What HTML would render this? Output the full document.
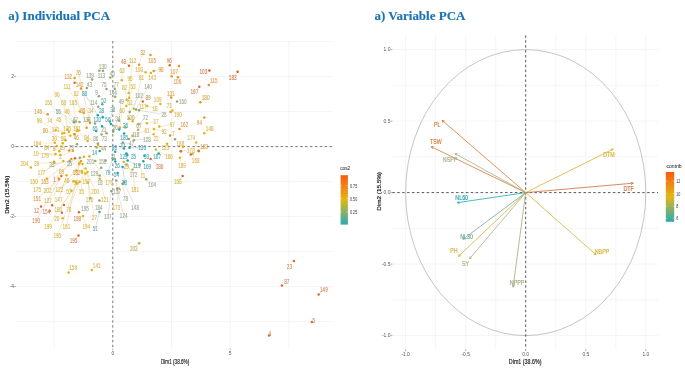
<!DOCTYPE html>
<html><head><meta charset="utf-8"><title>PCA</title>
<style>html,body{margin:0;padding:0;background:#fff;width:685px;height:368px;overflow:hidden;}svg{display:block;will-change:transform;}</style>
</head><body>
<svg width="685" height="368" viewBox="0 0 685 368">
<rect width="685" height="368" fill="#ffffff"/>
<defs><filter id="bl" x="0" y="0" width="100%" height="100%"><feGaussianBlur stdDeviation="0.35"/></filter></defs><g filter="url(#bl)">
<g stroke="#ebebeb" stroke-width="0.5"><line x1="54.1" y1="41" x2="54.1" y2="348.5"/><line x1="112.8" y1="41" x2="112.8" y2="348.5"/><line x1="171.5" y1="41" x2="171.5" y2="348.5"/><line x1="230.2" y1="41" x2="230.2" y2="348.5"/><line x1="288.9" y1="41" x2="288.9" y2="348.5"/><line x1="16" y1="41.6" x2="333" y2="41.6"/><line x1="16" y1="76.6" x2="333" y2="76.6"/><line x1="16" y1="111.6" x2="333" y2="111.6"/><line x1="16" y1="146.6" x2="333" y2="146.6"/><line x1="16" y1="181.6" x2="333" y2="181.6"/><line x1="16" y1="216.6" x2="333" y2="216.6"/><line x1="16" y1="251.6" x2="333" y2="251.6"/><line x1="16" y1="286.6" x2="333" y2="286.6"/><line x1="16" y1="321.6" x2="333" y2="321.6"/></g>
<g stroke="#333" stroke-width="0.65" stroke-dasharray="2.4,2.5"><line x1="112.8" y1="41" x2="112.8" y2="348.5"/><line x1="16" y1="146.6" x2="333" y2="146.6"/></g>
<g stroke-width="0.35" opacity="0.85"><line x1="139.1" y1="64.8" x2="142.7" y2="52.2" stroke="#dca050"/><line x1="129.0" y1="65.7" x2="123.6" y2="61.2" stroke="#d88c5c"/><line x1="128.6" y1="92.9" x2="132.6" y2="60.8" stroke="#d8b850"/><line x1="153.7" y1="71.0" x2="161.0" y2="69.3" stroke="#dca050"/><line x1="145.6" y1="72.2" x2="139.1" y2="69.3" stroke="#d8b850"/><line x1="121.8" y1="80.2" x2="122.0" y2="70.1" stroke="#d8b850"/><line x1="129.2" y1="97.8" x2="130.1" y2="78.3" stroke="#d8b850"/><line x1="133.8" y1="108.8" x2="141.5" y2="77.8" stroke="#d8b850"/><line x1="126.7" y1="99.8" x2="124.6" y2="87.3" stroke="#d8b850"/><line x1="126.3" y1="106.0" x2="133.0" y2="86.3" stroke="#d8b850"/><line x1="136.1" y1="109.5" x2="148.0" y2="86.4" stroke="#a0aa90"/><line x1="129.7" y1="111.9" x2="139.1" y2="95.5" stroke="#a0aa90"/><line x1="237.6" y1="71.8" x2="232.7" y2="77.1" stroke="#d27c58"/><line x1="208.8" y1="85.1" x2="214.0" y2="80.4" stroke="#dca050"/><line x1="199.3" y1="86.7" x2="194.4" y2="91.8" stroke="#d88c5c"/><line x1="90.0" y1="123.1" x2="78.3" y2="72.0" stroke="#dca050"/><line x1="83.7" y1="113.0" x2="67.0" y2="86.3" stroke="#d8b850"/><line x1="76.1" y1="121.6" x2="57.1" y2="94.2" stroke="#d8b850"/><line x1="79.8" y1="111.4" x2="76.2" y2="93.4" stroke="#d8b850"/><line x1="97.8" y1="115.3" x2="84.5" y2="93.6" stroke="#4aa8b4"/><line x1="77.6" y1="130.4" x2="48.5" y2="102.8" stroke="#d8b850"/><line x1="67.6" y1="129.3" x2="63.5" y2="102.7" stroke="#d8b850"/><line x1="76.9" y1="130.9" x2="73.1" y2="102.3" stroke="#d8b850"/><line x1="47.7" y1="114.2" x2="38.2" y2="111.3" stroke="#dca050"/><line x1="73.9" y1="122.2" x2="58.3" y2="111.3" stroke="#78aca8"/><line x1="78.4" y1="130.5" x2="67.0" y2="111.0" stroke="#d8b850"/><line x1="86.6" y1="127.8" x2="82.7" y2="110.3" stroke="#dca050"/><line x1="88.3" y1="120.1" x2="90.9" y2="110.3" stroke="#d8b850"/><line x1="55.7" y1="130.3" x2="39.2" y2="120.7" stroke="#d8b850"/><line x1="64.4" y1="133.1" x2="49.6" y2="120.7" stroke="#d8b850"/><line x1="68.8" y1="132.1" x2="58.8" y2="119.9" stroke="#d8b850"/><line x1="95.0" y1="123.6" x2="86.8" y2="119.4" stroke="#a0aa90"/><line x1="102.1" y1="126.3" x2="97.3" y2="119.8" stroke="#4aa8b4"/><line x1="65.4" y1="140.2" x2="45.2" y2="130.0" stroke="#dca050"/><line x1="70.4" y1="135.7" x2="55.5" y2="129.2" stroke="#d8b850"/><line x1="74.4" y1="134.4" x2="67.2" y2="128.9" stroke="#d8b850"/><line x1="87.6" y1="140.9" x2="77.0" y2="128.9" stroke="#d8b850"/><line x1="62.8" y1="143.2" x2="54.2" y2="138.2" stroke="#d8b850"/><line x1="98.1" y1="145.1" x2="86.8" y2="137.0" stroke="#d8b850"/><line x1="54.8" y1="142.8" x2="37.1" y2="143.0" stroke="#d8b850"/><line x1="56.9" y1="146.1" x2="46.9" y2="147.1" stroke="#d8b850"/><line x1="69.2" y1="150.6" x2="54.2" y2="148.7" stroke="#dca050"/><line x1="55.5" y1="154.0" x2="35.9" y2="153.2" stroke="#d8b850"/><line x1="60.4" y1="155.1" x2="45.0" y2="155.0" stroke="#d8b850"/><line x1="119.0" y1="120.8" x2="121.3" y2="101.0" stroke="#a0aa90"/><line x1="128.9" y1="118.4" x2="130.0" y2="102.0" stroke="#d8b850"/><line x1="132.7" y1="121.2" x2="142.9" y2="106.4" stroke="#d8b850"/><line x1="147.2" y1="106.0" x2="155.1" y2="108.4" stroke="#d8b850"/><line x1="102.8" y1="117.2" x2="101.5" y2="110.3" stroke="#4aa8b4"/><line x1="109.9" y1="121.6" x2="112.8" y2="109.6" stroke="#78aca8"/><line x1="119.8" y1="127.5" x2="122.0" y2="110.3" stroke="#d8b850"/><line x1="139.0" y1="110.3" x2="164.1" y2="114.5" stroke="#a0aa90"/><line x1="113.3" y1="131.1" x2="117.7" y2="118.6" stroke="#a0aa90"/><line x1="125.2" y1="127.4" x2="130.7" y2="117.8" stroke="#bcb26a"/><line x1="138.5" y1="124.2" x2="145.4" y2="117.8" stroke="#a0aa90"/><line x1="146.8" y1="123.2" x2="156.0" y2="121.9" stroke="#d8b850"/><line x1="119.2" y1="129.6" x2="125.5" y2="125.1" stroke="#4aa8b4"/><line x1="132.3" y1="135.7" x2="147.0" y2="130.0" stroke="#d8b850"/><line x1="153.9" y1="128.9" x2="164.1" y2="131.4" stroke="#d8b850"/><line x1="128.8" y1="139.0" x2="135.6" y2="134.9" stroke="#a0aa90"/><line x1="133.8" y1="140.2" x2="147.0" y2="139.0" stroke="#a0aa90"/><line x1="122.8" y1="142.6" x2="131.5" y2="143.9" stroke="#a0aa90"/><line x1="96.6" y1="147.4" x2="103.8" y2="148.7" stroke="#bcb26a"/><line x1="129.5" y1="147.7" x2="142.1" y2="147.9" stroke="#4aa8b4"/><line x1="159.3" y1="126.6" x2="172.2" y2="124.3" stroke="#d8b850"/><line x1="204.3" y1="133.3" x2="209.7" y2="128.4" stroke="#d8b850"/><line x1="198.8" y1="151.2" x2="204.0" y2="146.3" stroke="#dca050"/><line x1="181.2" y1="151.2" x2="190.9" y2="150.2" stroke="#d8b850"/><line x1="30.9" y1="167.6" x2="24.4" y2="163.4" stroke="#d8b850"/><line x1="54.0" y1="161.8" x2="36.6" y2="163.8" stroke="#d8b850"/><line x1="72.9" y1="150.9" x2="60.3" y2="156.2" stroke="#d8b850"/><line x1="69.6" y1="161.1" x2="51.8" y2="164.7" stroke="#a0aa90"/><line x1="79.8" y1="157.8" x2="69.2" y2="163.4" stroke="#a0aa90"/><line x1="63.4" y1="160.9" x2="41.5" y2="172.5" stroke="#d8b850"/><line x1="84.0" y1="156.7" x2="61.6" y2="171.2" stroke="#d8b850"/><line x1="54.5" y1="162.8" x2="33.9" y2="181.3" stroke="#d8b850"/><line x1="71.3" y1="158.9" x2="44.8" y2="181.3" stroke="#dca050"/><line x1="75.0" y1="158.3" x2="54.6" y2="179.0" stroke="#d88c5c"/><line x1="79.2" y1="164.1" x2="66.8" y2="180.6" stroke="#d8b850"/><line x1="46.9" y1="178.5" x2="37.1" y2="189.9" stroke="#d8b850"/><line x1="59.1" y1="179.6" x2="47.6" y2="190.4" stroke="#d8b850"/><line x1="81.7" y1="171.1" x2="59.4" y2="189.1" stroke="#d8b850"/><line x1="73.4" y1="181.2" x2="68.7" y2="191.0" stroke="#d8b850"/><line x1="58.7" y1="178.6" x2="37.1" y2="198.9" stroke="#dca050"/><line x1="76.4" y1="170.4" x2="48.0" y2="200.2" stroke="#d8b850"/><line x1="66.6" y1="175.3" x2="58.6" y2="199.7" stroke="#d8b850"/><line x1="127.6" y1="160.5" x2="136.8" y2="165.5" stroke="#4aa8b4"/><line x1="80.9" y1="161.3" x2="76.5" y2="172.8" stroke="#dca050"/><line x1="101.2" y1="167.7" x2="94.4" y2="173.6" stroke="#a0aa90"/><line x1="112.6" y1="158.4" x2="107.8" y2="172.8" stroke="#4aa8b4"/><line x1="126.6" y1="164.4" x2="133.5" y2="174.4" stroke="#a0aa90"/><line x1="139.6" y1="164.6" x2="143.0" y2="175.2" stroke="#d8b850"/><line x1="79.4" y1="163.0" x2="76.2" y2="182.6" stroke="#d8b850"/><line x1="82.5" y1="163.9" x2="86.3" y2="181.8" stroke="#d8b850"/><line x1="99.6" y1="175.4" x2="100.1" y2="182.6" stroke="#a0aa90"/><line x1="89.4" y1="156.3" x2="109.1" y2="182.6" stroke="#d8b850"/><line x1="122.6" y1="166.9" x2="124.6" y2="182.9" stroke="#4aa8b4"/><line x1="82.1" y1="172.5" x2="81.4" y2="191.5" stroke="#d8b850"/><line x1="85.5" y1="168.6" x2="95.2" y2="191.0" stroke="#d8b850"/><line x1="116.2" y1="180.6" x2="117.2" y2="191.5" stroke="#a0aa90"/><line x1="132.5" y1="169.5" x2="135.1" y2="189.9" stroke="#d8b850"/><line x1="87.5" y1="172.0" x2="89.5" y2="199.7" stroke="#d8b850"/><line x1="99.7" y1="178.8" x2="105.0" y2="199.2" stroke="#d8b850"/><line x1="122.5" y1="183.8" x2="125.4" y2="198.0" stroke="#a0aa90"/><line x1="90.1" y1="198.2" x2="85.0" y2="208.0" stroke="#a0aa90"/><line x1="119.0" y1="188.4" x2="116.4" y2="207.2" stroke="#d8b850"/><line x1="124.0" y1="182.2" x2="135.1" y2="207.0" stroke="#a0aa90"/><line x1="155.9" y1="149.6" x2="169.0" y2="156.2" stroke="#d8b850"/><line x1="150.6" y1="159.0" x2="159.5" y2="166.0" stroke="#d88c5c"/><line x1="146.2" y1="179.3" x2="152.2" y2="184.5" stroke="#a0aa90"/><line x1="192.5" y1="153.8" x2="195.7" y2="160.1" stroke="#d8b850"/><line x1="179.9" y1="157.8" x2="182.0" y2="165.0" stroke="#d8b850"/><line x1="182.7" y1="176.0" x2="177.8" y2="181.8" stroke="#d8b850"/><line x1="85.5" y1="173.4" x2="58.3" y2="209.8" stroke="#d8b850"/><line x1="79.6" y1="181.8" x2="68.7" y2="209.4" stroke="#d8b850"/><line x1="61.4" y1="176.1" x2="36.2" y2="220.4" stroke="#d88c5c"/><line x1="71.5" y1="190.8" x2="48.0" y2="226.9" stroke="#d8b850"/><line x1="75.4" y1="181.8" x2="66.4" y2="226.9" stroke="#d8b850"/><line x1="76.8" y1="183.2" x2="57.3" y2="235.8" stroke="#d8b850"/><line x1="78.5" y1="235.5" x2="73.5" y2="240.4" stroke="#d88c5c"/><line x1="88.0" y1="182.4" x2="94.4" y2="217.1" stroke="#d8b850"/><line x1="111.3" y1="191.2" x2="107.8" y2="216.6" stroke="#a0aa90"/><line x1="117.1" y1="188.5" x2="123.7" y2="215.5" stroke="#a0aa90"/><line x1="83.0" y1="216.0" x2="86.3" y2="226.4" stroke="#d8b850"/><line x1="99.5" y1="212.0" x2="95.2" y2="228.5" stroke="#78aca8"/><line x1="139.2" y1="243.2" x2="133.8" y2="248.0" stroke="#bcb26a"/><line x1="318.6" y1="294.5" x2="323.9" y2="289.2" stroke="#d88c5c"/></g>
<g><circle cx="139.1" cy="64.8" r="1.25" fill="#e89418"/><circle cx="150.5" cy="55.0" r="1.25" fill="#e89418"/><circle cx="129.0" cy="65.7" r="1.25" fill="#dc6a2c"/><circle cx="128.6" cy="92.9" r="1.25" fill="#e0b218"/><circle cx="153.7" cy="71.0" r="1.25" fill="#e89418"/><circle cx="169.7" cy="65.2" r="1.25" fill="#dc6a2c"/><circle cx="171.7" cy="76.2" r="1.25" fill="#e89418"/><circle cx="178.0" cy="77.3" r="1.25" fill="#e89418"/><circle cx="145.6" cy="72.2" r="1.25" fill="#e0b218"/><circle cx="121.8" cy="80.2" r="1.25" fill="#e0b218"/><circle cx="110.4" cy="77.5" r="1.25" fill="#94a474"/><circle cx="103.0" cy="70.8" r="1.25" fill="#94a474"/><circle cx="99.4" cy="70.8" r="1.25" fill="#94a474"/><circle cx="129.2" cy="97.8" r="1.25" fill="#e0b218"/><circle cx="133.8" cy="108.8" r="1.25" fill="#e0b218"/><circle cx="150.9" cy="72.9" r="1.25" fill="#e0b218"/><circle cx="114.8" cy="88.8" r="1.25" fill="#94a474"/><circle cx="106.5" cy="88.9" r="1.25" fill="#94a474"/><circle cx="126.7" cy="99.8" r="1.25" fill="#e0b218"/><circle cx="126.3" cy="106.0" r="1.25" fill="#e0b218"/><circle cx="136.1" cy="109.5" r="1.25" fill="#94a474"/><circle cx="115.1" cy="96.8" r="1.25" fill="#94a474"/><circle cx="129.7" cy="111.9" r="1.25" fill="#94a474"/><circle cx="171.3" cy="97.4" r="1.25" fill="#e89418"/><circle cx="142.8" cy="101.4" r="1.25" fill="#dc6a2c"/><circle cx="160.3" cy="104.1" r="1.25" fill="#e0b218"/><circle cx="179.0" cy="66.0" r="1.25" fill="#e89418"/><circle cx="209.4" cy="70.6" r="1.25" fill="#d25c28"/><circle cx="237.6" cy="71.8" r="1.25" fill="#d25c28"/><circle cx="208.8" cy="85.1" r="1.25" fill="#e89418"/><circle cx="199.3" cy="86.7" r="1.25" fill="#dc6a2c"/><circle cx="200.4" cy="102.3" r="1.25" fill="#e89418"/><circle cx="90.0" cy="123.1" r="1.25" fill="#e89418"/><circle cx="74.6" cy="78.0" r="1.25" fill="#e89418"/><circle cx="83.7" cy="113.0" r="1.25" fill="#e0b218"/><circle cx="81.0" cy="88.5" r="1.25" fill="#e89418"/><circle cx="74.6" cy="82.7" r="1.25" fill="#dc6a2c"/><circle cx="92.0" cy="79.5" r="1.25" fill="#94a474"/><circle cx="86.8" cy="88.0" r="1.25" fill="#94a474"/><circle cx="76.1" cy="121.6" r="1.25" fill="#e0b218"/><circle cx="79.8" cy="111.4" r="1.25" fill="#e0b218"/><circle cx="97.8" cy="115.3" r="1.25" fill="#1aa0ae"/><circle cx="98.8" cy="96.3" r="1.25" fill="#94a474"/><circle cx="77.6" cy="130.4" r="1.25" fill="#e0b218"/><circle cx="67.6" cy="129.3" r="1.25" fill="#e0b218"/><circle cx="76.9" cy="130.9" r="1.25" fill="#e0b218"/><circle cx="98.2" cy="106.7" r="1.25" fill="#94a474"/><circle cx="47.7" cy="114.2" r="1.25" fill="#e89418"/><circle cx="73.9" cy="122.2" r="1.25" fill="#50a89c"/><circle cx="78.4" cy="130.5" r="1.25" fill="#e0b218"/><circle cx="86.6" cy="127.8" r="1.25" fill="#e89418"/><circle cx="88.3" cy="120.1" r="1.25" fill="#e0b218"/><circle cx="55.7" cy="130.3" r="1.25" fill="#e0b218"/><circle cx="64.4" cy="133.1" r="1.25" fill="#e0b218"/><circle cx="68.8" cy="132.1" r="1.25" fill="#e0b218"/><circle cx="79.5" cy="121.9" r="1.25" fill="#94a474"/><circle cx="95.0" cy="123.6" r="1.25" fill="#94a474"/><circle cx="102.1" cy="126.3" r="1.25" fill="#1aa0ae"/><circle cx="65.4" cy="140.2" r="1.25" fill="#e89418"/><circle cx="70.4" cy="135.7" r="1.25" fill="#e0b218"/><circle cx="74.4" cy="134.4" r="1.25" fill="#e0b218"/><circle cx="87.6" cy="140.9" r="1.25" fill="#e0b218"/><circle cx="96.1" cy="131.0" r="1.25" fill="#1aa0ae"/><circle cx="62.8" cy="143.2" r="1.25" fill="#e0b218"/><circle cx="62.2" cy="133.4" r="1.25" fill="#e0b218"/><circle cx="74.6" cy="133.9" r="1.25" fill="#e89418"/><circle cx="98.1" cy="145.1" r="1.25" fill="#e0b218"/><circle cx="97.9" cy="143.4" r="1.25" fill="#94a474"/><circle cx="54.8" cy="142.8" r="1.25" fill="#e0b218"/><circle cx="56.9" cy="146.1" r="1.25" fill="#e0b218"/><circle cx="69.2" cy="150.6" r="1.25" fill="#e89418"/><circle cx="59.3" cy="151.2" r="1.25" fill="#e0b218"/><circle cx="76.9" cy="144.2" r="1.25" fill="#94a474"/><circle cx="55.5" cy="154.0" r="1.25" fill="#e0b218"/><circle cx="60.4" cy="155.1" r="1.25" fill="#e0b218"/><circle cx="102.3" cy="104.2" r="1.25" fill="#50a89c"/><circle cx="119.0" cy="120.8" r="1.25" fill="#94a474"/><circle cx="128.9" cy="118.4" r="1.25" fill="#e0b218"/><circle cx="132.7" cy="121.2" r="1.25" fill="#e0b218"/><circle cx="147.2" cy="106.0" r="1.25" fill="#e0b218"/><circle cx="102.8" cy="117.2" r="1.25" fill="#1aa0ae"/><circle cx="109.9" cy="121.6" r="1.25" fill="#50a89c"/><circle cx="119.8" cy="127.5" r="1.25" fill="#e0b218"/><circle cx="139.0" cy="110.3" r="1.25" fill="#94a474"/><circle cx="110.8" cy="124.0" r="1.25" fill="#1aa0ae"/><circle cx="113.3" cy="131.1" r="1.25" fill="#94a474"/><circle cx="125.2" cy="127.4" r="1.25" fill="#b8ae48"/><circle cx="138.5" cy="124.2" r="1.25" fill="#94a474"/><circle cx="146.8" cy="123.2" r="1.25" fill="#e0b218"/><circle cx="106.5" cy="133.3" r="1.25" fill="#94a474"/><circle cx="113.1" cy="131.7" r="1.25" fill="#94a474"/><circle cx="119.2" cy="129.6" r="1.25" fill="#1aa0ae"/><circle cx="138.1" cy="129.7" r="1.25" fill="#b8ae48"/><circle cx="132.3" cy="135.7" r="1.25" fill="#e0b218"/><circle cx="153.9" cy="128.9" r="1.25" fill="#e0b218"/><circle cx="101.5" cy="134.6" r="1.25" fill="#94a474"/><circle cx="124.1" cy="133.4" r="1.25" fill="#1aa0ae"/><circle cx="128.8" cy="139.0" r="1.25" fill="#94a474"/><circle cx="133.8" cy="140.2" r="1.25" fill="#94a474"/><circle cx="153.7" cy="134.2" r="1.25" fill="#e0b218"/><circle cx="122.8" cy="142.6" r="1.25" fill="#94a474"/><circle cx="96.6" cy="147.4" r="1.25" fill="#b8ae48"/><circle cx="114.9" cy="159.1" r="1.25" fill="#94a474"/><circle cx="115.2" cy="151.7" r="1.25" fill="#1aa0ae"/><circle cx="123.8" cy="148.5" r="1.25" fill="#1aa0ae"/><circle cx="129.5" cy="147.7" r="1.25" fill="#1aa0ae"/><circle cx="167.1" cy="143.7" r="1.25" fill="#e0b218"/><circle cx="99.7" cy="151.1" r="1.25" fill="#1aa0ae"/><circle cx="177.1" cy="101.5" r="1.25" fill="#94a474"/><circle cx="170.6" cy="112.1" r="1.25" fill="#e89418"/><circle cx="172.5" cy="110.5" r="1.25" fill="#e0b218"/><circle cx="204.3" cy="117.5" r="1.25" fill="#e89418"/><circle cx="159.3" cy="126.6" r="1.25" fill="#e0b218"/><circle cx="179.5" cy="128.9" r="1.25" fill="#e89418"/><circle cx="204.3" cy="133.3" r="1.25" fill="#e0b218"/><circle cx="170.1" cy="135.4" r="1.25" fill="#e89418"/><circle cx="175.0" cy="139.3" r="1.25" fill="#94a474"/><circle cx="196.2" cy="142.6" r="1.25" fill="#e0b218"/><circle cx="182.8" cy="147.1" r="1.25" fill="#e0b218"/><circle cx="198.8" cy="151.2" r="1.25" fill="#e89418"/><circle cx="181.2" cy="151.2" r="1.25" fill="#e0b218"/><circle cx="30.9" cy="167.6" r="1.25" fill="#e0b218"/><circle cx="54.0" cy="161.8" r="1.25" fill="#e0b218"/><circle cx="72.9" cy="150.9" r="1.25" fill="#e0b218"/><circle cx="69.6" cy="161.1" r="1.25" fill="#94a474"/><circle cx="79.8" cy="157.8" r="1.25" fill="#94a474"/><circle cx="63.4" cy="160.9" r="1.25" fill="#e0b218"/><circle cx="84.0" cy="156.7" r="1.25" fill="#e0b218"/><circle cx="54.5" cy="162.8" r="1.25" fill="#e0b218"/><circle cx="71.3" cy="158.9" r="1.25" fill="#e89418"/><circle cx="75.0" cy="158.3" r="1.25" fill="#dc6a2c"/><circle cx="79.2" cy="164.1" r="1.25" fill="#e0b218"/><circle cx="46.9" cy="178.5" r="1.25" fill="#e0b218"/><circle cx="59.1" cy="179.6" r="1.25" fill="#e0b218"/><circle cx="81.7" cy="171.1" r="1.25" fill="#e0b218"/><circle cx="73.4" cy="181.2" r="1.25" fill="#e0b218"/><circle cx="58.7" cy="178.6" r="1.25" fill="#e89418"/><circle cx="76.4" cy="170.4" r="1.25" fill="#e0b218"/><circle cx="66.6" cy="175.3" r="1.25" fill="#e0b218"/><circle cx="126.4" cy="153.5" r="1.25" fill="#1aa0ae"/><circle cx="127.4" cy="154.9" r="1.25" fill="#1aa0ae"/><circle cx="144.4" cy="155.7" r="1.25" fill="#1aa0ae"/><circle cx="95.3" cy="161.1" r="1.25" fill="#94a474"/><circle cx="105.4" cy="160.8" r="1.25" fill="#94a474"/><circle cx="115.3" cy="161.4" r="1.25" fill="#1aa0ae"/><circle cx="123.7" cy="162.1" r="1.25" fill="#e0b218"/><circle cx="127.6" cy="160.5" r="1.25" fill="#1aa0ae"/><circle cx="80.9" cy="161.3" r="1.25" fill="#e89418"/><circle cx="101.2" cy="167.7" r="1.25" fill="#94a474"/><circle cx="112.6" cy="158.4" r="1.25" fill="#1aa0ae"/><circle cx="117.6" cy="173.1" r="1.25" fill="#1aa0ae"/><circle cx="126.6" cy="164.4" r="1.25" fill="#94a474"/><circle cx="139.6" cy="164.6" r="1.25" fill="#e0b218"/><circle cx="79.4" cy="163.0" r="1.25" fill="#e0b218"/><circle cx="82.5" cy="163.9" r="1.25" fill="#e0b218"/><circle cx="99.6" cy="175.4" r="1.25" fill="#94a474"/><circle cx="89.4" cy="156.3" r="1.25" fill="#e0b218"/><circle cx="122.6" cy="166.9" r="1.25" fill="#1aa0ae"/><circle cx="82.1" cy="172.5" r="1.25" fill="#e0b218"/><circle cx="85.5" cy="168.6" r="1.25" fill="#e0b218"/><circle cx="116.2" cy="180.6" r="1.25" fill="#94a474"/><circle cx="132.5" cy="169.5" r="1.25" fill="#e0b218"/><circle cx="87.5" cy="172.0" r="1.25" fill="#e0b218"/><circle cx="99.7" cy="178.8" r="1.25" fill="#e0b218"/><circle cx="122.5" cy="183.8" r="1.25" fill="#94a474"/><circle cx="90.1" cy="198.2" r="1.25" fill="#94a474"/><circle cx="99.4" cy="200.6" r="1.25" fill="#94a474"/><circle cx="119.0" cy="188.4" r="1.25" fill="#e0b218"/><circle cx="124.0" cy="182.2" r="1.25" fill="#94a474"/><circle cx="158.6" cy="153.4" r="1.25" fill="#1aa0ae"/><circle cx="155.9" cy="149.6" r="1.25" fill="#e0b218"/><circle cx="150.6" cy="159.0" r="1.25" fill="#dc6a2c"/><circle cx="143.3" cy="161.2" r="1.25" fill="#1aa0ae"/><circle cx="146.2" cy="179.3" r="1.25" fill="#94a474"/><circle cx="192.5" cy="153.8" r="1.25" fill="#e0b218"/><circle cx="179.9" cy="157.8" r="1.25" fill="#e0b218"/><circle cx="182.7" cy="176.0" r="1.25" fill="#dc6a2c"/><circle cx="180.7" cy="151.3" r="1.25" fill="#dc6a2c"/><circle cx="198.6" cy="150.8" r="1.25" fill="#dc6a2c"/><circle cx="190.8" cy="154.6" r="1.25" fill="#dc6a2c"/><circle cx="41.0" cy="206.5" r="1.25" fill="#dc6a2c"/><circle cx="49.7" cy="211.0" r="1.25" fill="#dc6a2c"/><circle cx="52.1" cy="205.2" r="1.25" fill="#dc6a2c"/><circle cx="85.5" cy="173.4" r="1.25" fill="#e0b218"/><circle cx="79.6" cy="181.8" r="1.25" fill="#e0b218"/><circle cx="64.0" cy="204.9" r="1.25" fill="#dc6a2c"/><circle cx="61.9" cy="212.7" r="1.25" fill="#dc6a2c"/><circle cx="61.4" cy="176.1" r="1.25" fill="#dc6a2c"/><circle cx="62.7" cy="218.2" r="1.25" fill="#e0b218"/><circle cx="71.5" cy="190.8" r="1.25" fill="#e0b218"/><circle cx="75.4" cy="181.8" r="1.25" fill="#e0b218"/><circle cx="79.0" cy="212.2" r="1.25" fill="#dc6a2c"/><circle cx="76.8" cy="183.2" r="1.25" fill="#e0b218"/><circle cx="78.5" cy="235.5" r="1.25" fill="#dc6a2c"/><circle cx="88.0" cy="182.4" r="1.25" fill="#e0b218"/><circle cx="111.3" cy="191.2" r="1.25" fill="#94a474"/><circle cx="117.1" cy="188.5" r="1.25" fill="#94a474"/><circle cx="83.0" cy="216.0" r="1.25" fill="#e0b218"/><circle cx="99.5" cy="212.0" r="1.25" fill="#50a89c"/><circle cx="139.2" cy="243.2" r="1.25" fill="#b8ae48"/><circle cx="68.6" cy="272.4" r="1.25" fill="#e0b218"/><circle cx="91.9" cy="270.1" r="1.25" fill="#e0b218"/><circle cx="293.9" cy="261.1" r="1.25" fill="#dc6a2c"/><circle cx="281.9" cy="285.5" r="1.25" fill="#dc6a2c"/><circle cx="318.6" cy="294.5" r="1.25" fill="#dc6a2c"/><circle cx="311.9" cy="321.9" r="1.25" fill="#dc6a2c"/><circle cx="269.1" cy="335.4" r="1.25" fill="#dc6a2c"/></g>
<g font-family="&quot;Liberation Sans&quot;, sans-serif" stroke-width="0.14"><text transform="translate(142.7,54.72) scale(0.66,1)" font-size="7.0" text-anchor="middle" fill="#dca050" stroke="#dca050">32</text><text transform="translate(152.1,62.92) scale(0.66,1)" font-size="7.0" text-anchor="middle" fill="#dca050" stroke="#dca050">105</text><text transform="translate(123.6,63.72) scale(0.66,1)" font-size="7.0" text-anchor="middle" fill="#d88c5c" stroke="#d88c5c">48</text><text transform="translate(132.6,63.32) scale(0.66,1)" font-size="7.0" text-anchor="middle" fill="#d8b850" stroke="#d8b850">112</text><text transform="translate(161.0,71.82) scale(0.66,1)" font-size="7.0" text-anchor="middle" fill="#dca050" stroke="#dca050">98</text><text transform="translate(169.2,62.92) scale(0.66,1)" font-size="7.0" text-anchor="middle" fill="#d88c5c" stroke="#d88c5c">96</text><text transform="translate(174.1,73.52) scale(0.66,1)" font-size="7.0" text-anchor="middle" fill="#dca050" stroke="#dca050">107</text><text transform="translate(177.4,84.02) scale(0.66,1)" font-size="7.0" text-anchor="middle" fill="#dca050" stroke="#dca050">106</text><text transform="translate(139.1,71.82) scale(0.66,1)" font-size="7.0" text-anchor="middle" fill="#d8b850" stroke="#d8b850">100</text><text transform="translate(122.0,72.62) scale(0.66,1)" font-size="7.0" text-anchor="middle" fill="#d8b850" stroke="#d8b850">63</text><text transform="translate(112.2,75.92) scale(0.66,1)" font-size="7.0" text-anchor="middle" fill="#a0aa90" stroke="#a0aa90">43</text><text transform="translate(102.7,69.02) scale(0.66,1)" font-size="7.0" text-anchor="middle" fill="#a0aa90" stroke="#a0aa90">130</text><text transform="translate(101.5,78.02) scale(0.66,1)" font-size="7.0" text-anchor="middle" fill="#a0aa90" stroke="#a0aa90">113</text><text transform="translate(130.1,80.82) scale(0.66,1)" font-size="7.0" text-anchor="middle" fill="#d8b850" stroke="#d8b850">95</text><text transform="translate(141.5,80.32) scale(0.66,1)" font-size="7.0" text-anchor="middle" fill="#d8b850" stroke="#d8b850">81</text><text transform="translate(152.1,80.02) scale(0.66,1)" font-size="7.0" text-anchor="middle" fill="#d8b850" stroke="#d8b850">143</text><text transform="translate(116.2,86.92) scale(0.66,1)" font-size="7.0" text-anchor="middle" fill="#a0aa90" stroke="#a0aa90">77</text><text transform="translate(104.0,86.92) scale(0.66,1)" font-size="7.0" text-anchor="middle" fill="#a0aa90" stroke="#a0aa90">75</text><text transform="translate(124.6,89.82) scale(0.66,1)" font-size="7.0" text-anchor="middle" fill="#d8b850" stroke="#d8b850">82</text><text transform="translate(133.0,88.82) scale(0.66,1)" font-size="7.0" text-anchor="middle" fill="#d8b850" stroke="#d8b850">53</text><text transform="translate(148.0,88.92) scale(0.66,1)" font-size="7.0" text-anchor="middle" fill="#a0aa90" stroke="#a0aa90">140</text><text transform="translate(113.0,95.32) scale(0.66,1)" font-size="7.0" text-anchor="middle" fill="#a0aa90" stroke="#a0aa90">144</text><text transform="translate(139.1,98.02) scale(0.66,1)" font-size="7.0" text-anchor="middle" fill="#a0aa90" stroke="#a0aa90">102</text><text transform="translate(170.8,95.52) scale(0.66,1)" font-size="7.0" text-anchor="middle" fill="#dca050" stroke="#dca050">131</text><text transform="translate(148.0,100.42) scale(0.66,1)" font-size="7.0" text-anchor="middle" fill="#d88c5c" stroke="#d88c5c">89</text><text transform="translate(157.7,101.62) scale(0.66,1)" font-size="7.0" text-anchor="middle" fill="#d8b850" stroke="#d8b850">109</text><text transform="translate(203.4,73.82) scale(0.66,1)" font-size="7.0" text-anchor="middle" fill="#d27c58" stroke="#d27c58">103</text><text transform="translate(232.7,79.62) scale(0.66,1)" font-size="7.0" text-anchor="middle" fill="#d27c58" stroke="#d27c58">183</text><text transform="translate(214.0,82.92) scale(0.66,1)" font-size="7.0" text-anchor="middle" fill="#dca050" stroke="#dca050">115</text><text transform="translate(194.4,94.32) scale(0.66,1)" font-size="7.0" text-anchor="middle" fill="#d88c5c" stroke="#d88c5c">167</text><text transform="translate(205.6,100.42) scale(0.66,1)" font-size="7.0" text-anchor="middle" fill="#dca050" stroke="#dca050">180</text><text transform="translate(78.3,74.52) scale(0.66,1)" font-size="7.0" text-anchor="middle" fill="#dca050" stroke="#dca050">76</text><text transform="translate(68.3,78.72) scale(0.66,1)" font-size="7.0" text-anchor="middle" fill="#dca050" stroke="#dca050">132</text><text transform="translate(67.0,88.82) scale(0.66,1)" font-size="7.0" text-anchor="middle" fill="#d8b850" stroke="#d8b850">111</text><text transform="translate(79.6,87.02) scale(0.66,1)" font-size="7.0" text-anchor="middle" fill="#dca050" stroke="#dca050">142</text><text transform="translate(90.0,78.42) scale(0.66,1)" font-size="7.0" text-anchor="middle" fill="#a0aa90" stroke="#a0aa90">139</text><text transform="translate(89.4,87.32) scale(0.66,1)" font-size="7.0" text-anchor="middle" fill="#a0aa90" stroke="#a0aa90">43</text><text transform="translate(57.1,96.72) scale(0.66,1)" font-size="7.0" text-anchor="middle" fill="#d8b850" stroke="#d8b850">90</text><text transform="translate(76.2,95.92) scale(0.66,1)" font-size="7.0" text-anchor="middle" fill="#d8b850" stroke="#d8b850">62</text><text transform="translate(84.5,96.12) scale(0.66,1)" font-size="7.0" text-anchor="middle" fill="#4aa8b4" stroke="#4aa8b4">88</text><text transform="translate(96.5,94.82) scale(0.66,1)" font-size="7.0" text-anchor="middle" fill="#a0aa90" stroke="#a0aa90">9</text><text transform="translate(48.5,105.32) scale(0.66,1)" font-size="7.0" text-anchor="middle" fill="#d8b850" stroke="#d8b850">155</text><text transform="translate(63.5,105.22) scale(0.66,1)" font-size="7.0" text-anchor="middle" fill="#d8b850" stroke="#d8b850">68</text><text transform="translate(73.1,104.82) scale(0.66,1)" font-size="7.0" text-anchor="middle" fill="#d8b850" stroke="#d8b850">165</text><text transform="translate(93.7,105.02) scale(0.66,1)" font-size="7.0" text-anchor="middle" fill="#a0aa90" stroke="#a0aa90">114</text><text transform="translate(38.2,113.82) scale(0.66,1)" font-size="7.0" text-anchor="middle" fill="#dca050" stroke="#dca050">145</text><text transform="translate(58.3,113.82) scale(0.66,1)" font-size="7.0" text-anchor="middle" fill="#78aca8" stroke="#78aca8">55</text><text transform="translate(67.0,113.52) scale(0.66,1)" font-size="7.0" text-anchor="middle" fill="#d8b850" stroke="#d8b850">40</text><text transform="translate(82.7,112.82) scale(0.66,1)" font-size="7.0" text-anchor="middle" fill="#dca050" stroke="#dca050">85</text><text transform="translate(90.9,112.82) scale(0.66,1)" font-size="7.0" text-anchor="middle" fill="#d8b850" stroke="#d8b850">34</text><text transform="translate(39.2,123.22) scale(0.66,1)" font-size="7.0" text-anchor="middle" fill="#d8b850" stroke="#d8b850">99</text><text transform="translate(49.6,123.22) scale(0.66,1)" font-size="7.0" text-anchor="middle" fill="#d8b850" stroke="#d8b850">74</text><text transform="translate(58.8,122.42) scale(0.66,1)" font-size="7.0" text-anchor="middle" fill="#d8b850" stroke="#d8b850">45</text><text transform="translate(75.4,121.92) scale(0.66,1)" font-size="7.0" text-anchor="middle" fill="#a0aa90" stroke="#a0aa90">47</text><text transform="translate(86.8,121.92) scale(0.66,1)" font-size="7.0" text-anchor="middle" fill="#a0aa90" stroke="#a0aa90">133</text><text transform="translate(97.3,122.32) scale(0.66,1)" font-size="7.0" text-anchor="middle" fill="#4aa8b4" stroke="#4aa8b4">120</text><text transform="translate(45.2,132.52) scale(0.66,1)" font-size="7.0" text-anchor="middle" fill="#dca050" stroke="#dca050">80</text><text transform="translate(55.5,131.72) scale(0.66,1)" font-size="7.0" text-anchor="middle" fill="#d8b850" stroke="#d8b850">171</text><text transform="translate(67.2,131.42) scale(0.66,1)" font-size="7.0" text-anchor="middle" fill="#d8b850" stroke="#d8b850">125</text><text transform="translate(77.0,131.42) scale(0.66,1)" font-size="7.0" text-anchor="middle" fill="#d8b850" stroke="#d8b850">101</text><text transform="translate(95.0,130.92) scale(0.66,1)" font-size="7.0" text-anchor="middle" fill="#4aa8b4" stroke="#4aa8b4">65</text><text transform="translate(54.2,140.72) scale(0.66,1)" font-size="7.0" text-anchor="middle" fill="#d8b850" stroke="#d8b850">30</text><text transform="translate(63.2,140.72) scale(0.66,1)" font-size="7.0" text-anchor="middle" fill="#d8b850" stroke="#d8b850">58</text><text transform="translate(76.2,139.52) scale(0.66,1)" font-size="7.0" text-anchor="middle" fill="#dca050" stroke="#dca050">46</text><text transform="translate(86.8,139.52) scale(0.66,1)" font-size="7.0" text-anchor="middle" fill="#d8b850" stroke="#d8b850">84</text><text transform="translate(95.7,141.32) scale(0.66,1)" font-size="7.0" text-anchor="middle" fill="#a0aa90" stroke="#a0aa90">86</text><text transform="translate(37.1,145.52) scale(0.66,1)" font-size="7.0" text-anchor="middle" fill="#d8b850" stroke="#d8b850">164</text><text transform="translate(46.9,149.62) scale(0.66,1)" font-size="7.0" text-anchor="middle" fill="#d8b850" stroke="#d8b850">84</text><text transform="translate(54.2,151.22) scale(0.66,1)" font-size="7.0" text-anchor="middle" fill="#dca050" stroke="#dca050">8</text><text transform="translate(62.3,149.62) scale(0.66,1)" font-size="7.0" text-anchor="middle" fill="#d8b850" stroke="#d8b850">69</text><text transform="translate(71.3,149.62) scale(0.66,1)" font-size="7.0" text-anchor="middle" fill="#a0aa90" stroke="#a0aa90">73</text><text transform="translate(35.9,155.72) scale(0.66,1)" font-size="7.0" text-anchor="middle" fill="#d8b850" stroke="#d8b850">10</text><text transform="translate(45.0,157.52) scale(0.66,1)" font-size="7.0" text-anchor="middle" fill="#d8b850" stroke="#d8b850">179</text><text transform="translate(103.7,103.32) scale(0.66,1)" font-size="7.0" text-anchor="middle" fill="#78aca8" stroke="#78aca8">52</text><text transform="translate(121.3,103.52) scale(0.66,1)" font-size="7.0" text-anchor="middle" fill="#a0aa90" stroke="#a0aa90">49</text><text transform="translate(130.0,104.52) scale(0.66,1)" font-size="7.0" text-anchor="middle" fill="#d8b850" stroke="#d8b850">52</text><text transform="translate(142.9,108.92) scale(0.66,1)" font-size="7.0" text-anchor="middle" fill="#d8b850" stroke="#d8b850">117</text><text transform="translate(155.1,110.92) scale(0.66,1)" font-size="7.0" text-anchor="middle" fill="#d8b850" stroke="#d8b850">18</text><text transform="translate(101.5,112.82) scale(0.66,1)" font-size="7.0" text-anchor="middle" fill="#4aa8b4" stroke="#4aa8b4">28</text><text transform="translate(112.8,112.12) scale(0.66,1)" font-size="7.0" text-anchor="middle" fill="#78aca8" stroke="#78aca8">38</text><text transform="translate(122.0,112.82) scale(0.66,1)" font-size="7.0" text-anchor="middle" fill="#d8b850" stroke="#d8b850">60</text><text transform="translate(164.1,117.02) scale(0.66,1)" font-size="7.0" text-anchor="middle" fill="#a0aa90" stroke="#a0aa90">25</text><text transform="translate(107.9,122.32) scale(0.66,1)" font-size="7.0" text-anchor="middle" fill="#4aa8b4" stroke="#4aa8b4">56</text><text transform="translate(117.7,121.12) scale(0.66,1)" font-size="7.0" text-anchor="middle" fill="#a0aa90" stroke="#a0aa90">34</text><text transform="translate(130.7,120.32) scale(0.66,1)" font-size="7.0" text-anchor="middle" fill="#bcb26a" stroke="#bcb26a">108</text><text transform="translate(145.4,120.32) scale(0.66,1)" font-size="7.0" text-anchor="middle" fill="#a0aa90" stroke="#a0aa90">72</text><text transform="translate(156.0,124.42) scale(0.66,1)" font-size="7.0" text-anchor="middle" fill="#d8b850" stroke="#d8b850">17</text><text transform="translate(103.8,131.72) scale(0.66,1)" font-size="7.0" text-anchor="middle" fill="#a0aa90" stroke="#a0aa90">21</text><text transform="translate(115.2,130.12) scale(0.66,1)" font-size="7.0" text-anchor="middle" fill="#a0aa90" stroke="#a0aa90">26</text><text transform="translate(125.5,127.62) scale(0.66,1)" font-size="7.0" text-anchor="middle" fill="#4aa8b4" stroke="#4aa8b4">36</text><text transform="translate(138.9,127.62) scale(0.66,1)" font-size="7.0" text-anchor="middle" fill="#bcb26a" stroke="#bcb26a">67</text><text transform="translate(147.0,132.52) scale(0.66,1)" font-size="7.0" text-anchor="middle" fill="#d8b850" stroke="#d8b850">61</text><text transform="translate(164.1,133.92) scale(0.66,1)" font-size="7.0" text-anchor="middle" fill="#d8b850" stroke="#d8b850">92</text><text transform="translate(104.3,141.12) scale(0.66,1)" font-size="7.0" text-anchor="middle" fill="#a0aa90" stroke="#a0aa90">73</text><text transform="translate(124.2,139.52) scale(0.66,1)" font-size="7.0" text-anchor="middle" fill="#4aa8b4" stroke="#4aa8b4">185</text><text transform="translate(135.6,137.42) scale(0.66,1)" font-size="7.0" text-anchor="middle" fill="#a0aa90" stroke="#a0aa90">118</text><text transform="translate(147.0,141.52) scale(0.66,1)" font-size="7.0" text-anchor="middle" fill="#a0aa90" stroke="#a0aa90">128</text><text transform="translate(156.0,141.12) scale(0.66,1)" font-size="7.0" text-anchor="middle" fill="#d8b850" stroke="#d8b850">22</text><text transform="translate(131.5,146.42) scale(0.66,1)" font-size="7.0" text-anchor="middle" fill="#a0aa90" stroke="#a0aa90">47</text><text transform="translate(103.8,151.22) scale(0.66,1)" font-size="7.0" text-anchor="middle" fill="#bcb26a" stroke="#bcb26a">44</text><text transform="translate(113.1,158.52) scale(0.66,1)" font-size="7.0" text-anchor="middle" fill="#a0aa90" stroke="#a0aa90">11</text><text transform="translate(114.4,150.42) scale(0.66,1)" font-size="7.0" text-anchor="middle" fill="#4aa8b4" stroke="#4aa8b4">98</text><text transform="translate(122.6,148.02) scale(0.66,1)" font-size="7.0" text-anchor="middle" fill="#4aa8b4" stroke="#4aa8b4">70</text><text transform="translate(142.1,150.42) scale(0.66,1)" font-size="7.0" text-anchor="middle" fill="#4aa8b4" stroke="#4aa8b4">136</text><text transform="translate(165.3,150.12) scale(0.66,1)" font-size="7.0" text-anchor="middle" fill="#d8b850" stroke="#d8b850">123</text><text transform="translate(94.6,155.32) scale(0.66,1)" font-size="7.0" text-anchor="middle" fill="#4aa8b4" stroke="#4aa8b4">14</text><text transform="translate(182.8,103.72) scale(0.66,1)" font-size="7.0" text-anchor="middle" fill="#a0aa90" stroke="#a0aa90">160</text><text transform="translate(169.4,108.12) scale(0.66,1)" font-size="7.0" text-anchor="middle" fill="#dca050" stroke="#dca050">71</text><text transform="translate(177.9,117.42) scale(0.66,1)" font-size="7.0" text-anchor="middle" fill="#d8b850" stroke="#d8b850">190</text><text transform="translate(199.4,124.92) scale(0.66,1)" font-size="7.0" text-anchor="middle" fill="#dca050" stroke="#dca050">94</text><text transform="translate(172.2,126.82) scale(0.66,1)" font-size="7.0" text-anchor="middle" fill="#d8b850" stroke="#d8b850">97</text><text transform="translate(184.4,126.82) scale(0.66,1)" font-size="7.0" text-anchor="middle" fill="#dca050" stroke="#dca050">162</text><text transform="translate(209.7,130.92) scale(0.66,1)" font-size="7.0" text-anchor="middle" fill="#d8b850" stroke="#d8b850">148</text><text transform="translate(173.4,136.32) scale(0.66,1)" font-size="7.0" text-anchor="middle" fill="#dca050" stroke="#dca050">7</text><text transform="translate(191.3,140.22) scale(0.66,1)" font-size="7.0" text-anchor="middle" fill="#d8b850" stroke="#d8b850">174</text><text transform="translate(180.4,146.42) scale(0.66,1)" font-size="7.0" text-anchor="middle" fill="#d8b850" stroke="#d8b850">188</text><text transform="translate(204.0,148.82) scale(0.66,1)" font-size="7.0" text-anchor="middle" fill="#dca050" stroke="#dca050">163</text><text transform="translate(190.9,152.72) scale(0.66,1)" font-size="7.0" text-anchor="middle" fill="#d8b850" stroke="#d8b850">178</text><text transform="translate(24.4,165.92) scale(0.66,1)" font-size="7.0" text-anchor="middle" fill="#d8b850" stroke="#d8b850">204</text><text transform="translate(36.6,166.32) scale(0.66,1)" font-size="7.0" text-anchor="middle" fill="#d8b850" stroke="#d8b850">39</text><text transform="translate(60.3,158.72) scale(0.66,1)" font-size="7.0" text-anchor="middle" fill="#d8b850" stroke="#d8b850">2</text><text transform="translate(51.8,167.22) scale(0.66,1)" font-size="7.0" text-anchor="middle" fill="#a0aa90" stroke="#a0aa90">31</text><text transform="translate(69.2,165.92) scale(0.66,1)" font-size="7.0" text-anchor="middle" fill="#a0aa90" stroke="#a0aa90">16</text><text transform="translate(41.5,175.02) scale(0.66,1)" font-size="7.0" text-anchor="middle" fill="#d8b850" stroke="#d8b850">177</text><text transform="translate(61.6,173.72) scale(0.66,1)" font-size="7.0" text-anchor="middle" fill="#d8b850" stroke="#d8b850">89</text><text transform="translate(33.9,183.82) scale(0.66,1)" font-size="7.0" text-anchor="middle" fill="#d8b850" stroke="#d8b850">150</text><text transform="translate(44.8,183.82) scale(0.66,1)" font-size="7.0" text-anchor="middle" fill="#dca050" stroke="#dca050">153</text><text transform="translate(54.6,181.52) scale(0.66,1)" font-size="7.0" text-anchor="middle" fill="#d88c5c" stroke="#d88c5c">1</text><text transform="translate(66.8,183.12) scale(0.66,1)" font-size="7.0" text-anchor="middle" fill="#d8b850" stroke="#d8b850">46</text><text transform="translate(37.1,192.42) scale(0.66,1)" font-size="7.0" text-anchor="middle" fill="#d8b850" stroke="#d8b850">175</text><text transform="translate(47.6,192.92) scale(0.66,1)" font-size="7.0" text-anchor="middle" fill="#d8b850" stroke="#d8b850">202</text><text transform="translate(59.4,191.62) scale(0.66,1)" font-size="7.0" text-anchor="middle" fill="#d8b850" stroke="#d8b850">122</text><text transform="translate(68.7,193.52) scale(0.66,1)" font-size="7.0" text-anchor="middle" fill="#d8b850" stroke="#d8b850">57</text><text transform="translate(37.1,201.42) scale(0.66,1)" font-size="7.0" text-anchor="middle" fill="#dca050" stroke="#dca050">151</text><text transform="translate(48.0,202.72) scale(0.66,1)" font-size="7.0" text-anchor="middle" fill="#d8b850" stroke="#d8b850">127</text><text transform="translate(58.6,202.22) scale(0.66,1)" font-size="7.0" text-anchor="middle" fill="#d8b850" stroke="#d8b850">147</text><text transform="translate(123.7,159.32) scale(0.66,1)" font-size="7.0" text-anchor="middle" fill="#4aa8b4" stroke="#4aa8b4">129</text><text transform="translate(133.5,159.32) scale(0.66,1)" font-size="7.0" text-anchor="middle" fill="#4aa8b4" stroke="#4aa8b4">35</text><text transform="translate(146.5,159.32) scale(0.66,1)" font-size="7.0" text-anchor="middle" fill="#4aa8b4" stroke="#4aa8b4">93</text><text transform="translate(90.4,164.22) scale(0.66,1)" font-size="7.0" text-anchor="middle" fill="#a0aa90" stroke="#a0aa90">201</text><text transform="translate(102.6,164.22) scale(0.66,1)" font-size="7.0" text-anchor="middle" fill="#a0aa90" stroke="#a0aa90">152</text><text transform="translate(117.2,168.02) scale(0.66,1)" font-size="7.0" text-anchor="middle" fill="#4aa8b4" stroke="#4aa8b4">26</text><text transform="translate(126.2,168.52) scale(0.66,1)" font-size="7.0" text-anchor="middle" fill="#d8b850" stroke="#d8b850">29</text><text transform="translate(136.8,168.02) scale(0.66,1)" font-size="7.0" text-anchor="middle" fill="#4aa8b4" stroke="#4aa8b4">119</text><text transform="translate(76.5,175.32) scale(0.66,1)" font-size="7.0" text-anchor="middle" fill="#dca050" stroke="#dca050">182</text><text transform="translate(94.4,176.12) scale(0.66,1)" font-size="7.0" text-anchor="middle" fill="#a0aa90" stroke="#a0aa90">129</text><text transform="translate(107.8,175.32) scale(0.66,1)" font-size="7.0" text-anchor="middle" fill="#4aa8b4" stroke="#4aa8b4">79</text><text transform="translate(116.4,176.62) scale(0.66,1)" font-size="7.0" text-anchor="middle" fill="#4aa8b4" stroke="#4aa8b4">54</text><text transform="translate(133.5,176.92) scale(0.66,1)" font-size="7.0" text-anchor="middle" fill="#a0aa90" stroke="#a0aa90">172</text><text transform="translate(143.0,177.72) scale(0.66,1)" font-size="7.0" text-anchor="middle" fill="#d8b850" stroke="#d8b850">11</text><text transform="translate(76.2,185.12) scale(0.66,1)" font-size="7.0" text-anchor="middle" fill="#d8b850" stroke="#d8b850">19</text><text transform="translate(86.3,184.32) scale(0.66,1)" font-size="7.0" text-anchor="middle" fill="#d8b850" stroke="#d8b850">197</text><text transform="translate(100.1,185.12) scale(0.66,1)" font-size="7.0" text-anchor="middle" fill="#a0aa90" stroke="#a0aa90">13</text><text transform="translate(109.1,185.12) scale(0.66,1)" font-size="7.0" text-anchor="middle" fill="#d8b850" stroke="#d8b850">176</text><text transform="translate(124.6,185.42) scale(0.66,1)" font-size="7.0" text-anchor="middle" fill="#4aa8b4" stroke="#4aa8b4">38</text><text transform="translate(81.4,194.02) scale(0.66,1)" font-size="7.0" text-anchor="middle" fill="#d8b850" stroke="#d8b850">35</text><text transform="translate(95.2,193.52) scale(0.66,1)" font-size="7.0" text-anchor="middle" fill="#d8b850" stroke="#d8b850">200</text><text transform="translate(117.2,194.02) scale(0.66,1)" font-size="7.0" text-anchor="middle" fill="#a0aa90" stroke="#a0aa90">157</text><text transform="translate(135.1,192.42) scale(0.66,1)" font-size="7.0" text-anchor="middle" fill="#d8b850" stroke="#d8b850">181</text><text transform="translate(89.5,202.22) scale(0.66,1)" font-size="7.0" text-anchor="middle" fill="#d8b850" stroke="#d8b850">170</text><text transform="translate(105.0,201.72) scale(0.66,1)" font-size="7.0" text-anchor="middle" fill="#d8b850" stroke="#d8b850">121</text><text transform="translate(125.4,200.52) scale(0.66,1)" font-size="7.0" text-anchor="middle" fill="#a0aa90" stroke="#a0aa90">78</text><text transform="translate(85.0,210.52) scale(0.66,1)" font-size="7.0" text-anchor="middle" fill="#a0aa90" stroke="#a0aa90">195</text><text transform="translate(98.8,210.12) scale(0.66,1)" font-size="7.0" text-anchor="middle" fill="#a0aa90" stroke="#a0aa90">184</text><text transform="translate(116.4,209.72) scale(0.66,1)" font-size="7.0" text-anchor="middle" fill="#d8b850" stroke="#d8b850">173</text><text transform="translate(135.1,209.52) scale(0.66,1)" font-size="7.0" text-anchor="middle" fill="#a0aa90" stroke="#a0aa90">148</text><text transform="translate(157.1,159.32) scale(0.66,1)" font-size="7.0" text-anchor="middle" fill="#4aa8b4" stroke="#4aa8b4">187</text><text transform="translate(169.0,158.72) scale(0.66,1)" font-size="7.0" text-anchor="middle" fill="#d8b850" stroke="#d8b850">166</text><text transform="translate(159.5,168.52) scale(0.66,1)" font-size="7.0" text-anchor="middle" fill="#d88c5c" stroke="#d88c5c">186</text><text transform="translate(147.3,168.82) scale(0.66,1)" font-size="7.0" text-anchor="middle" fill="#4aa8b4" stroke="#4aa8b4">169</text><text transform="translate(152.2,187.02) scale(0.66,1)" font-size="7.0" text-anchor="middle" fill="#a0aa90" stroke="#a0aa90">104</text><text transform="translate(195.7,162.62) scale(0.66,1)" font-size="7.0" text-anchor="middle" fill="#d8b850" stroke="#d8b850">168</text><text transform="translate(182.0,167.52) scale(0.66,1)" font-size="7.0" text-anchor="middle" fill="#d8b850" stroke="#d8b850">189</text><text transform="translate(177.8,184.32) scale(0.66,1)" font-size="7.0" text-anchor="middle" fill="#d8b850" stroke="#d8b850">158</text><text transform="translate(36.6,212.62) scale(0.66,1)" font-size="7.0" text-anchor="middle" fill="#d88c5c" stroke="#d88c5c">12</text><text transform="translate(46.4,213.92) scale(0.66,1)" font-size="7.0" text-anchor="middle" fill="#d88c5c" stroke="#d88c5c">154</text><text transform="translate(58.3,212.32) scale(0.66,1)" font-size="7.0" text-anchor="middle" fill="#d8b850" stroke="#d8b850">180</text><text transform="translate(68.7,211.92) scale(0.66,1)" font-size="7.0" text-anchor="middle" fill="#d8b850" stroke="#d8b850">78</text><text transform="translate(36.2,222.92) scale(0.66,1)" font-size="7.0" text-anchor="middle" fill="#d88c5c" stroke="#d88c5c">190</text><text transform="translate(56.7,220.72) scale(0.66,1)" font-size="7.0" text-anchor="middle" fill="#d8b850" stroke="#d8b850">20</text><text transform="translate(48.0,229.42) scale(0.66,1)" font-size="7.0" text-anchor="middle" fill="#d8b850" stroke="#d8b850">199</text><text transform="translate(66.4,229.42) scale(0.66,1)" font-size="7.0" text-anchor="middle" fill="#d8b850" stroke="#d8b850">161</text><text transform="translate(77.3,220.72) scale(0.66,1)" font-size="7.0" text-anchor="middle" fill="#d88c5c" stroke="#d88c5c">198</text><text transform="translate(57.3,238.32) scale(0.66,1)" font-size="7.0" text-anchor="middle" fill="#d8b850" stroke="#d8b850">196</text><text transform="translate(73.5,242.92) scale(0.66,1)" font-size="7.0" text-anchor="middle" fill="#d88c5c" stroke="#d88c5c">195</text><text transform="translate(94.4,219.62) scale(0.66,1)" font-size="7.0" text-anchor="middle" fill="#d8b850" stroke="#d8b850">27</text><text transform="translate(107.8,219.12) scale(0.66,1)" font-size="7.0" text-anchor="middle" fill="#a0aa90" stroke="#a0aa90">137</text><text transform="translate(123.7,218.02) scale(0.66,1)" font-size="7.0" text-anchor="middle" fill="#a0aa90" stroke="#a0aa90">124</text><text transform="translate(86.3,228.92) scale(0.66,1)" font-size="7.0" text-anchor="middle" fill="#d8b850" stroke="#d8b850">194</text><text transform="translate(95.2,231.02) scale(0.66,1)" font-size="7.0" text-anchor="middle" fill="#78aca8" stroke="#78aca8">51</text><text transform="translate(133.8,250.52) scale(0.66,1)" font-size="7.0" text-anchor="middle" fill="#bcb26a" stroke="#bcb26a">203</text><text transform="translate(73.1,270.02) scale(0.66,1)" font-size="7.0" text-anchor="middle" fill="#d8b850" stroke="#d8b850">159</text><text transform="translate(96.7,268.12) scale(0.66,1)" font-size="7.0" text-anchor="middle" fill="#d8b850" stroke="#d8b850">141</text><text transform="translate(289.4,268.92) scale(0.66,1)" font-size="7.0" text-anchor="middle" fill="#d88c5c" stroke="#d88c5c">23</text><text transform="translate(286.7,283.92) scale(0.66,1)" font-size="7.0" text-anchor="middle" fill="#d88c5c" stroke="#d88c5c">87</text><text transform="translate(323.9,291.72) scale(0.66,1)" font-size="7.0" text-anchor="middle" fill="#d88c5c" stroke="#d88c5c">149</text><text transform="translate(313.7,322.52) scale(0.66,1)" font-size="7.0" text-anchor="middle" fill="#d88c5c" stroke="#d88c5c">5</text><text transform="translate(269.9,336.42) scale(0.66,1)" font-size="7.0" text-anchor="middle" fill="#d88c5c" stroke="#d88c5c">4</text></g>
<g font-family="&quot;Liberation Sans&quot;, sans-serif" font-size="4.9" fill="#555"><text x="14" y="78.2" text-anchor="end">2</text><line x1="14.3" y1="76.6" x2="16" y2="76.6" stroke="#333" stroke-width="0.4"/><text x="14" y="148.2" text-anchor="end">0</text><line x1="14.3" y1="146.6" x2="16" y2="146.6" stroke="#333" stroke-width="0.4"/><text x="14" y="218.2" text-anchor="end">-2</text><line x1="14.3" y1="216.6" x2="16" y2="216.6" stroke="#333" stroke-width="0.4"/><text x="14" y="288.2" text-anchor="end">-4</text><line x1="14.3" y1="286.6" x2="16" y2="286.6" stroke="#333" stroke-width="0.4"/><text x="112.8" y="355.3" text-anchor="middle">0</text><line x1="112.8" y1="348.5" x2="112.8" y2="350.3" stroke="#333" stroke-width="0.4"/><text x="230.2" y="355.3" text-anchor="middle">5</text><line x1="230.2" y1="348.5" x2="230.2" y2="350.3" stroke="#333" stroke-width="0.4"/></g>
<text transform="translate(175.1,363.8) scale(0.70,1)" font-family="&quot;Liberation Sans&quot;, sans-serif" font-size="6.6" text-anchor="middle" fill="#111" stroke="#111" stroke-width="0.15">Dim1 (38.6%)</text>
<text transform="translate(9.05,194.8) rotate(-90) scale(1.33,1)" font-family="&quot;Liberation Sans&quot;, sans-serif" font-size="4.7" text-anchor="middle" fill="#111" stroke="#111" stroke-width="0.15">Dim2 (15.5%)</text>
<defs><linearGradient id="gc" x1="0" y1="1" x2="0" y2="0"><stop offset="0" stop-color="#2aaab5"/><stop offset="0.5" stop-color="#e2b716"/><stop offset="1" stop-color="#fa5a10"/></linearGradient></defs>
<rect x="340.6" y="175.2" width="7.3" height="49.4" fill="url(#gc)"/>
<text transform="translate(345.2,170.3) scale(0.85,1)" font-family="&quot;Liberation Sans&quot;, sans-serif" font-size="5.6" text-anchor="middle" fill="#111">cos2</text>
<g font-family="&quot;Liberation Sans&quot;, sans-serif" font-size="5.6" fill="#333"><text transform="translate(350,187.5) scale(0.66,1)">0.75</text><line x1="340.6" y1="185.5" x2="342" y2="185.5" stroke="#fff" stroke-width="0.4"/><line x1="346.5" y1="185.5" x2="347.9" y2="185.5" stroke="#fff" stroke-width="0.4"/><text transform="translate(350,200.5) scale(0.66,1)">0.50</text><line x1="340.6" y1="198.5" x2="342" y2="198.5" stroke="#fff" stroke-width="0.4"/><line x1="346.5" y1="198.5" x2="347.9" y2="198.5" stroke="#fff" stroke-width="0.4"/><text transform="translate(350,214.0) scale(0.66,1)">0.25</text><line x1="340.6" y1="212" x2="342" y2="212" stroke="#fff" stroke-width="0.4"/><line x1="346.5" y1="212" x2="347.9" y2="212" stroke="#fff" stroke-width="0.4"/></g>
<text transform="translate(8.3,19.7) scale(0.97,1)" font-family="&quot;Liberation Serif&quot;, serif" font-weight="bold" font-size="13.4" fill="#1c72b2" stroke="#1c72b2" stroke-width="0.15">a) Individual PCA</text>
<text transform="translate(374.5,19.9) scale(0.97,1)" font-family="&quot;Liberation Serif&quot;, serif" font-weight="bold" font-size="13.4" fill="#1c72b2" stroke="#1c72b2" stroke-width="0.15">a) Variable PCA</text>
<g stroke="#ebebeb" stroke-width="0.5"><line x1="405.6" y1="35.4" x2="405.6" y2="349.4"/><line x1="392.4" y1="335.6" x2="658" y2="335.6"/><line x1="435.6" y1="35.4" x2="435.6" y2="349.4"/><line x1="392.4" y1="299.9" x2="658" y2="299.9"/><line x1="465.7" y1="35.4" x2="465.7" y2="349.4"/><line x1="392.4" y1="264.1" x2="658" y2="264.1"/><line x1="495.7" y1="35.4" x2="495.7" y2="349.4"/><line x1="392.4" y1="228.3" x2="658" y2="228.3"/><line x1="525.7" y1="35.4" x2="525.7" y2="349.4"/><line x1="392.4" y1="192.6" x2="658" y2="192.6"/><line x1="555.7" y1="35.4" x2="555.7" y2="349.4"/><line x1="392.4" y1="156.8" x2="658" y2="156.8"/><line x1="585.8" y1="35.4" x2="585.8" y2="349.4"/><line x1="392.4" y1="121.1" x2="658" y2="121.1"/><line x1="615.8" y1="35.4" x2="615.8" y2="349.4"/><line x1="392.4" y1="85.3" x2="658" y2="85.3"/><line x1="645.8" y1="35.4" x2="645.8" y2="349.4"/><line x1="392.4" y1="49.6" x2="658" y2="49.6"/></g>
<ellipse cx="525.7" cy="192.6" rx="120.1" ry="143.0" fill="none" stroke="#a0a0a0" stroke-width="0.6"/>
<g stroke="#222" stroke-width="0.75" stroke-dasharray="2.4,2.5"><line x1="525.7" y1="35.4" x2="525.7" y2="349.4"/><line x1="392.4" y1="192.6" x2="658" y2="192.6"/></g>
<g stroke-width="0.8"><line x1="525.7" y1="192.6" x2="442.1" y2="120.3" stroke="#d07a30"/><polyline points="444.6,120.9 442.1,120.3 443.0,122.7" fill="none" stroke="#d07a30"/><line x1="525.7" y1="192.6" x2="431.2" y2="146.7" stroke="#cf7c32"/><polyline points="433.8,146.6 431.2,146.7 432.7,148.8" fill="none" stroke="#cf7c32"/><line x1="525.7" y1="192.6" x2="454.9" y2="153.5" stroke="#a2ae86"/><polyline points="457.5,153.5 454.9,153.5 456.3,155.7" fill="none" stroke="#a2ae86"/><line x1="525.7" y1="192.6" x2="457.3" y2="202.7" stroke="#22a6b4"/><polyline points="459.4,201.2 457.3,202.7 459.7,203.6" fill="none" stroke="#22a6b4"/><line x1="525.7" y1="192.6" x2="462.9" y2="239.3" stroke="#72aa9a"/><polyline points="464.0,237.0 462.9,239.3 465.5,238.9" fill="none" stroke="#72aa9a"/><line x1="525.7" y1="192.6" x2="458.4" y2="256.4" stroke="#d6b03a"/><polyline points="459.2,253.9 458.4,256.4 460.9,255.7" fill="none" stroke="#d6b03a"/><line x1="525.7" y1="192.6" x2="469.5" y2="258.8" stroke="#acae76"/><polyline points="470.1,256.3 469.5,258.8 471.9,257.8" fill="none" stroke="#acae76"/><line x1="525.7" y1="192.6" x2="513.1" y2="287.2" stroke="#a4aa7a"/><polyline points="512.2,284.8 513.1,287.2 514.6,285.1" fill="none" stroke="#a4aa7a"/><line x1="525.7" y1="192.6" x2="613.2" y2="149" stroke="#d9b02a"/><polyline points="611.7,151.1 613.2,149 610.6,148.9" fill="none" stroke="#d9b02a"/><line x1="525.7" y1="192.6" x2="633.3" y2="183.2" stroke="#cd6c36"/><polyline points="631.1,184.6 633.3,183.2 630.9,182.2" fill="none" stroke="#cd6c36"/><line x1="525.7" y1="192.6" x2="596" y2="254.7" stroke="#d2b232"/><polyline points="593.5,254.1 596,254.7 595.1,252.3" fill="none" stroke="#d2b232"/></g>
<g font-family="&quot;Liberation Sans&quot;, sans-serif" stroke-width="0.2"><text transform="translate(437.3,127.32) scale(0.76,1)" font-size="7.0" text-anchor="middle" fill="#d07a30" stroke="#d07a30">PL</text><text transform="translate(435.8,143.82) scale(0.76,1)" font-size="7.0" text-anchor="middle" fill="#cf7c32" stroke="#cf7c32">TSW</text><text transform="translate(450.1,161.82) scale(0.76,1)" font-size="7.0" text-anchor="middle" fill="#a2ae86" stroke="#a2ae86">NSPP</text><text transform="translate(461.7,199.72) scale(0.76,1)" font-size="7.0" text-anchor="middle" fill="#22a6b4" stroke="#22a6b4">NL60</text><text transform="translate(466.6,238.82) scale(0.76,1)" font-size="7.0" text-anchor="middle" fill="#72aa9a" stroke="#72aa9a">NL30</text><text transform="translate(453.9,253.32) scale(0.76,1)" font-size="7.0" text-anchor="middle" fill="#d6b03a" stroke="#d6b03a">PH</text><text transform="translate(465.6,266.22) scale(0.76,1)" font-size="7.0" text-anchor="middle" fill="#acae76" stroke="#acae76">SY</text><text transform="translate(517.1,284.52) scale(0.76,1)" font-size="7.0" text-anchor="middle" fill="#a4aa7a" stroke="#a4aa7a">NPPP</text><text transform="translate(609.0,157.02) scale(0.76,1)" font-size="7.0" text-anchor="middle" fill="#d9b02a" stroke="#d9b02a">DTM</text><text transform="translate(628.7,191.02) scale(0.76,1)" font-size="7.0" text-anchor="middle" fill="#cd6c36" stroke="#cd6c36">DTF</text><text transform="translate(602.0,253.92) scale(0.76,1)" font-size="7.0" text-anchor="middle" fill="#d2b232" stroke="#d2b232">NBPP</text></g>
<g font-family="&quot;Liberation Sans&quot;, sans-serif" font-size="4.9" fill="#555"><text x="390.4" y="51.2" text-anchor="end">1.0</text><line x1="390.7" y1="49.6" x2="392.4" y2="49.6" stroke="#333" stroke-width="0.4"/><text x="645.8" y="355.8" text-anchor="middle">1.0</text><line x1="645.8" y1="349.4" x2="645.8" y2="351.1" stroke="#333" stroke-width="0.4"/><text x="390.4" y="122.7" text-anchor="end">0.5</text><line x1="390.7" y1="121.1" x2="392.4" y2="121.1" stroke="#333" stroke-width="0.4"/><text x="585.8" y="355.8" text-anchor="middle">0.5</text><line x1="585.8" y1="349.4" x2="585.8" y2="351.1" stroke="#333" stroke-width="0.4"/><text x="390.4" y="194.2" text-anchor="end">0.0</text><line x1="390.7" y1="192.6" x2="392.4" y2="192.6" stroke="#333" stroke-width="0.4"/><text x="525.7" y="355.8" text-anchor="middle">0.0</text><line x1="525.7" y1="349.4" x2="525.7" y2="351.1" stroke="#333" stroke-width="0.4"/><text x="390.4" y="265.7" text-anchor="end">-0.5</text><line x1="390.7" y1="264.1" x2="392.4" y2="264.1" stroke="#333" stroke-width="0.4"/><text x="465.7" y="355.8" text-anchor="middle">-0.5</text><line x1="465.7" y1="349.4" x2="465.7" y2="351.1" stroke="#333" stroke-width="0.4"/><text x="390.4" y="337.2" text-anchor="end">-1.0</text><line x1="390.7" y1="335.6" x2="392.4" y2="335.6" stroke="#333" stroke-width="0.4"/><text x="405.6" y="355.8" text-anchor="middle">-1.0</text><line x1="405.6" y1="349.4" x2="405.6" y2="351.1" stroke="#333" stroke-width="0.4"/></g>
<text transform="translate(525.2,364.0) scale(0.81,1)" font-family="&quot;Liberation Sans&quot;, sans-serif" font-size="6.6" text-anchor="middle" fill="#111" stroke="#111" stroke-width="0.15">Dim1 (38.6%)</text>
<text transform="translate(381.2,191.4) rotate(-90) scale(1.22,1)" font-family="&quot;Liberation Sans&quot;, sans-serif" font-size="5.2" text-anchor="middle" fill="#111" stroke="#111" stroke-width="0.15">Dim2 (15.5%)</text>
<defs><linearGradient id="gv" x1="0" y1="1" x2="0" y2="0"><stop offset="0" stop-color="#2aaab5"/><stop offset="0.5" stop-color="#e2b716"/><stop offset="1" stop-color="#fa5a10"/></linearGradient></defs>
<rect x="665.8" y="172" width="8.4" height="49.8" fill="url(#gv)"/>
<text transform="translate(674.1,167.9) scale(0.9,1)" font-family="&quot;Liberation Sans&quot;, sans-serif" font-size="5.6" text-anchor="middle" fill="#111">contrib</text>
<g font-family="&quot;Liberation Sans&quot;, sans-serif" font-size="5.6" fill="#333"><text transform="translate(676.3,183.2) scale(0.66,1)">12</text><line x1="665.8" y1="181.2" x2="667.3" y2="181.2" stroke="#fff" stroke-width="0.4"/><line x1="672.7" y1="181.2" x2="674.2" y2="181.2" stroke="#fff" stroke-width="0.4"/><text transform="translate(676.3,195.6) scale(0.66,1)">10</text><line x1="665.8" y1="193.6" x2="667.3" y2="193.6" stroke="#fff" stroke-width="0.4"/><line x1="672.7" y1="193.6" x2="674.2" y2="193.6" stroke="#fff" stroke-width="0.4"/><text transform="translate(676.3,208.3) scale(0.66,1)">8</text><line x1="665.8" y1="206.3" x2="667.3" y2="206.3" stroke="#fff" stroke-width="0.4"/><line x1="672.7" y1="206.3" x2="674.2" y2="206.3" stroke="#fff" stroke-width="0.4"/><text transform="translate(676.3,220.3) scale(0.66,1)">6</text><line x1="665.8" y1="218.3" x2="667.3" y2="218.3" stroke="#fff" stroke-width="0.4"/><line x1="672.7" y1="218.3" x2="674.2" y2="218.3" stroke="#fff" stroke-width="0.4"/></g>
</g>
</svg>
</body></html>
